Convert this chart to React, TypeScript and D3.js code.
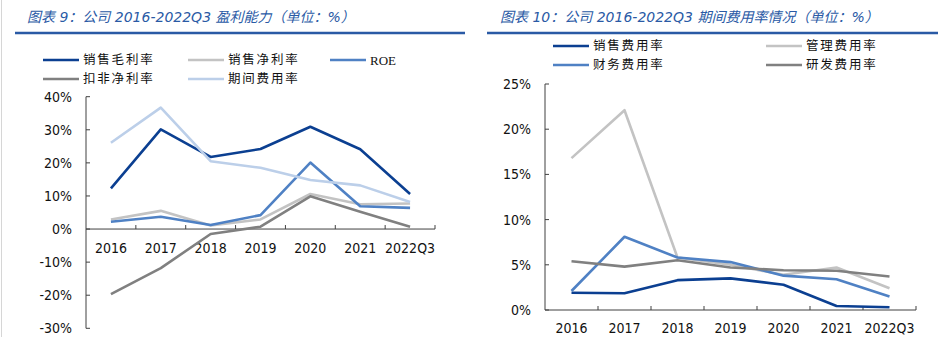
import React from "react";
import * as d3 from "d3";

const categories = ["2016", "2017", "2018", "2019", "2020", "2021", "2022Q3"];

// Left chart: 盈利能力
const grossMargin = [12.3, 30.1, 21.8, 24.2, 30.9, 24.1, 10.6];
const netMargin = [2.9, 5.5, 1.1, 2.9, 10.6, 7.5, 7.7];
const roe = [2.2, 3.7, 1.2, 4.2, 20.1, 6.9, 6.4];
const deductedNetMargin = [-19.7, -11.8, -1.5, 0.7, 9.9, 5.2, 0.7];
const periodExpense = [26.1, 36.7, 20.5, 18.5, 14.8, 13.2, 8.2];
const leftTicks = [-30, -20, -10, 0, 10, 20, 30, 40];

// Right chart: 期间费用率
const sellingExp = [1.9, 1.85, 3.3, 3.5, 2.8, 0.45, 0.3];
const adminExp = [16.8, 22.1, 5.8, 5.0, 3.9, 4.7, 2.4];
const financeExp = [2.1, 8.1, 5.8, 5.3, 3.8, 3.4, 1.5];
const rdExp = [5.4, 4.8, 5.5, 4.7, 4.4, 4.35, 3.7];
const rightTicks = [0, 5, 10, 15, 20, 25];

const C_DARK = "#0b3f91";
const C_MID = "#4f81c4";
const C_LIGHTBLUE = "#bccfe9";
const C_LIGHTGRAY = "#c3c3c3";
const C_GRAY = "#808080";
const TITLE_BLUE = "#2a5aa5";

const NUM_FONT = "'DejaVu Sans Condensed', 'DejaVu Sans', sans-serif";
const CJK_FONT = "'Liberation Serif', 'Noto Sans CJK SC', serif";
const TITLE_FONT = "'DejaVu Sans', 'Noto Sans CJK SC', sans-serif";

type Series = { name: string; values: number[]; color: string };

const leftSeries: Series[] = [
  { name: "销售毛利率", values: grossMargin, color: C_DARK },
  { name: "销售净利率", values: netMargin, color: C_LIGHTGRAY },
  { name: "ROE", values: roe, color: C_MID },
  { name: "扣非净利率", values: deductedNetMargin, color: C_GRAY },
  { name: "期间费用率", values: periodExpense, color: C_LIGHTBLUE },
];

const rightSeries: Series[] = [
  { name: "销售费用率", values: sellingExp, color: C_DARK },
  { name: "管理费用率", values: adminExp, color: C_LIGHTGRAY },
  { name: "财务费用率", values: financeExp, color: C_MID },
  { name: "研发费用率", values: rdExp, color: C_GRAY },
];

function Chart(props: {
  series: Series[];
  x0: number;
  x1: number;
  yDomain: [number, number];
  yRange: [number, number];
  ticks: number[];
  yLabelX: number;
  xLabelY: number;
}) {
  const { series, x0, x1, yDomain, yRange, ticks, yLabelX, xLabelY } = props;
  const x = d3.scaleBand<string>().domain(categories).range([x0, x1]).padding(0);
  const y = d3.scaleLinear().domain(yDomain).range(yRange);
  const y0 = y(0);
  const line = d3
    .line<number>()
    .x((_, i) => (x(categories[i]) as number) + x.bandwidth() / 2)
    .y((d) => y(d));
  const bounds = categories.map((c) => x(c) as number).concat([x1]);
  return (
    <g>
      {/* y axis */}
      <line x1={x0} x2={x0} y1={y(yDomain[1])} y2={y(yDomain[0])} stroke="#404040" strokeWidth={1} />
      {ticks.map((t) => (
        <g key={t}>
          <line x1={x0} x2={x0 + 4} y1={y(t)} y2={y(t)} stroke="#404040" strokeWidth={1} />
          <text
            x={yLabelX}
            y={y(t)}
            textAnchor="end"
            dominantBaseline="central"
            fontFamily={NUM_FONT}
            fontSize={14}
            fill="#111"
          >
            {t}%
          </text>
        </g>
      ))}
      {/* x axis */}
      <line x1={x0} x2={x1} y1={y0} y2={y0} stroke="#404040" strokeWidth={1} />
      {bounds.slice(1).map((b, i) => (
        <line key={i} x1={b} x2={b} y1={y0} y2={y0 - 4} stroke="#404040" strokeWidth={1} />
      ))}
      {categories.map((c) => (
        <text
          key={c}
          x={(x(c) as number) + x.bandwidth() / 2}
          y={xLabelY}
          textAnchor="middle"
          dominantBaseline="central"
          fontFamily={NUM_FONT}
          fontSize={14}
          fill="#111"
        >
          {c}
        </text>
      ))}
      {series.map((s) => (
        <path
          key={s.name}
          d={line(s.values) || ""}
          fill="none"
          stroke={s.color}
          strokeWidth={2.6}
          strokeLinejoin="round"
        />
      ))}
    </g>
  );
}

function LegendItem(props: { x: number; y: number; s: Series }) {
  const { x, y, s } = props;
  const latin = /^[A-Za-z]+$/.test(s.name);
  return (
    <g>
      <line x1={x} x2={x + 36} y1={y} y2={y} stroke={s.color} strokeWidth={2.6} />
      <text
        x={x + 40}
        y={y}
        dominantBaseline="central"
        fontFamily={CJK_FONT}
        fontSize={latin ? 13 : 12.5}
        letterSpacing={latin ? 0 : 1.8}
        fill="#111"
      >
        {s.name}
      </text>
    </g>
  );
}

export default function App() {
  return (
    <svg
      width={946}
      height={337}
      style={{ position: "absolute", left: 0, top: 0, background: "#fff" }}
    >
      <rect x={0} y={0} width={946} height={337} fill="#fff" />
      <line x1={1.5} x2={1.5} y1={0} y2={337} stroke="#d6d6d6" strokeWidth={1} />

      {/* Titles */}
      <text
        x={27}
        y={22}
        fontFamily={TITLE_FONT}
        fontSize={14}
        fontStyle="italic"
        fill={TITLE_BLUE}
      >
        图表 9：公司 2016-2022Q3 盈利能力（单位：%）
      </text>
      <line x1={15} x2={465} y1={33} y2={33} stroke={TITLE_BLUE} strokeWidth={2.5} />
      <text
        x={500}
        y={22}
        fontFamily={TITLE_FONT}
        fontSize={14}
        fontStyle="italic"
        fill={TITLE_BLUE}
      >
        图表 10：公司 2016-2022Q3 期间费用率情况（单位：%）
      </text>
      <line x1={487} x2={938} y1={33} y2={33} stroke={TITLE_BLUE} strokeWidth={2.5} />

      {/* Left legend */}
      <LegendItem x={43} y={60} s={leftSeries[0]} />
      <LegendItem x={188} y={60} s={leftSeries[1]} />
      <LegendItem x={330} y={60} s={leftSeries[2]} />
      <LegendItem x={43} y={79} s={leftSeries[3]} />
      <LegendItem x={188} y={79} s={leftSeries[4]} />

      {/* Right legend */}
      <LegendItem x={553} y={46} s={rightSeries[0]} />
      <LegendItem x={766} y={46} s={rightSeries[1]} />
      <LegendItem x={553} y={65} s={rightSeries[2]} />
      <LegendItem x={766} y={65} s={rightSeries[3]} />

      <Chart
        series={leftSeries}
        x0={86}
        x1={435}
        yDomain={[-30, 40]}
        yRange={[328.3, 96.7]}
        ticks={leftTicks}
        yLabelX={72}
        xLabelY={248}
      />
      <Chart
        series={rightSeries}
        x0={545}
        x1={916}
        yDomain={[0, 25]}
        yRange={[310, 84]}
        ticks={rightTicks}
        yLabelX={531}
        xLabelY={328}
      />
    </svg>
  );
}
